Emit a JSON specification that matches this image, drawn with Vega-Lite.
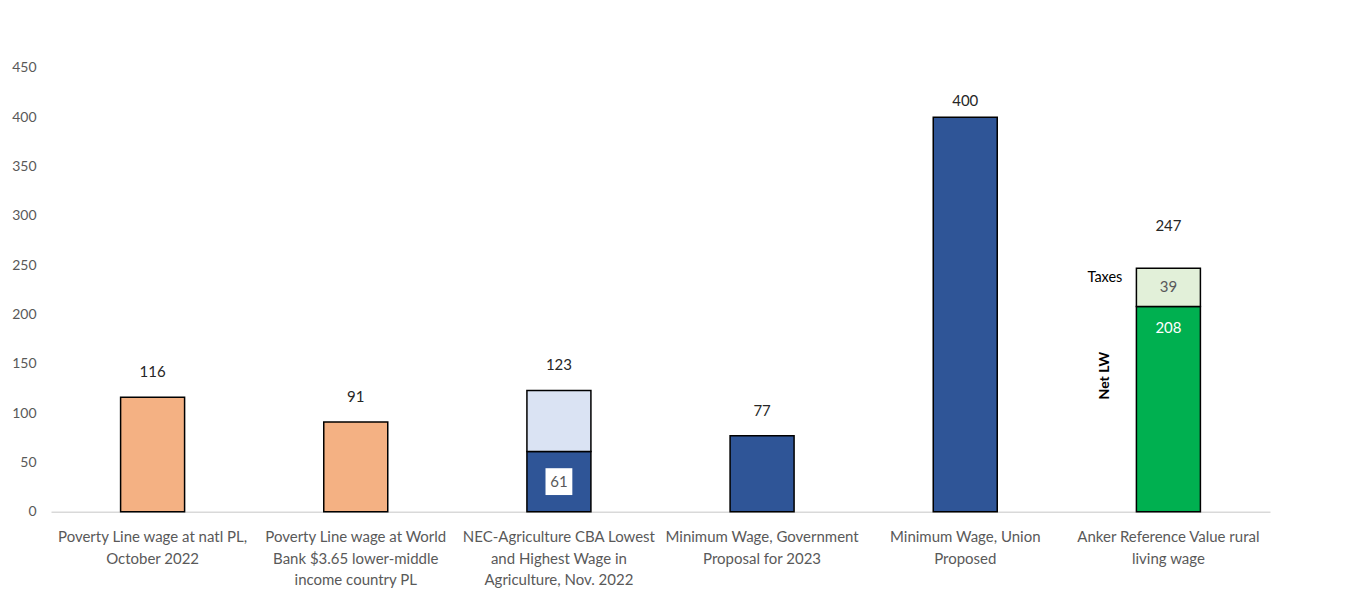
{
  "$schema": "https://vega.github.io/schema/vega-lite/v6.json",
  "width": 1219,
  "height": 443.7,
  "autosize": "none",
  "padding": {"left": 51, "top": 68, "right": 77, "bottom": 83},
  "background": "white",
  "config": {
    "view": {"stroke": null},
    "font": "Lato",
    "text": {"font": "Lato"}
  },
  "datasets": {
    "bars": [
      {"cat": "c1", "series": "pl", "ord": 1, "value": 116},
      {"cat": "c2", "series": "pl", "ord": 1, "value": 91},
      {"cat": "c3", "series": "low", "ord": 1, "value": 61},
      {"cat": "c3", "series": "high", "ord": 2, "value": 62},
      {"cat": "c4", "series": "min", "ord": 1, "value": 77},
      {"cat": "c5", "series": "min", "ord": 1, "value": 400},
      {"cat": "c6", "series": "net", "ord": 1, "value": 208},
      {"cat": "c6", "series": "tax", "ord": 2, "value": 39}
    ],
    "totals": [
      {"cat": "c1", "total": 116},
      {"cat": "c2", "total": 91},
      {"cat": "c3", "total": 123},
      {"cat": "c4", "total": 77},
      {"cat": "c5", "total": 400},
      {"cat": "c6", "total": 247}
    ],
    "inner": [
      {"cat": "c3", "label": "61", "mid": 30.5},
      {"cat": "c6", "label": "39", "mid": 227.5},
      {"cat": "c6", "label": "208", "mid": 208},
      {"cat": "c6", "label": "Taxes", "mid": 237},
      {"cat": "c6", "label": "Net LW", "mid": 138}
    ]
  },
  "encoding": {
    "x": {
      "field": "cat",
      "type": "nominal",
      "sort": null,
      "scale": {
        "domain": ["c1", "c2", "c3", "c4", "c5", "c6"],
        "paddingInner": 0.685,
        "paddingOuter": 0.3425
      },
      "axis": {
        "title": null,
        "ticks": false,
        "domainColor": "#D9D9D9",
        "domainWidth": 1.5,
        "labelAngle": 0,
        "labelPadding": 18,
        "labelLimit": 0,
        "labelFont": "Lato",
        "labelFontSize": 15,
        "labelColor": "#595959",
        "labelLineHeight": 21.5,
        "labelBaseline": "top",
        "labelExpr": "datum.value == 'c1' ? ['Poverty Line wage at natl PL,', 'October 2022'] : datum.value == 'c2' ? ['Poverty Line wage at World', 'Bank $3.65  lower-middle', 'income country PL'] : datum.value == 'c3' ? ['NEC-Agriculture CBA Lowest', 'and Highest Wage in', 'Agriculture, Nov. 2022'] : datum.value == 'c4' ? ['Minimum Wage, Government', 'Proposal for 2023'] : datum.value == 'c5' ? ['Minimum Wage, Union', 'Proposed'] : ['Anker Reference Value rural', 'living wage']"
      }
    }
  },
  "layer": [
    {
      "data": {"name": "bars"},
      "mark": {"type": "bar", "stroke": "black", "strokeWidth": 1.5},
      "encoding": {
        "y": {
          "field": "value",
          "type": "quantitative",
          "stack": "zero",
          "scale": {"domain": [0, 450], "nice": false},
          "axis": {
            "title": null,
            "values": [0, 50, 100, 150, 200, 250, 300, 350, 400, 450],
            "grid": false,
            "ticks": false,
            "domain": false,
            "labelPadding": 15,
            "labelFont": "Lato",
            "labelFontSize": 14,
            "labelColor": "#595959"
          }
        },
        "order": {"field": "ord", "type": "quantitative"},
        "fill": {
          "field": "series",
          "type": "nominal",
          "legend": null,
          "scale": {
            "domain": ["pl", "low", "high", "min", "net", "tax"],
            "range": ["#F4B183", "#2F5597", "#DAE3F3", "#2F5597", "#00B050", "#E2F0D9"]
          }
        }
      }
    },
    {
      "data": {"name": "totals"},
      "transform": [{"filter": "datum.total != 400 && datum.total != 247"}],
      "mark": {"type": "text", "dy": -25, "fontSize": 15, "color": "#262626", "baseline": "middle"},
      "encoding": {
        "y": {"field": "total", "type": "quantitative"},
        "text": {"field": "total", "type": "quantitative"}
      }
    },
    {
      "data": {"name": "totals"},
      "transform": [{"filter": "datum.total == 400"}],
      "mark": {"type": "text", "dy": -16, "fontSize": 15, "color": "#262626", "baseline": "middle"},
      "encoding": {
        "y": {"field": "total", "type": "quantitative"},
        "text": {"field": "total", "type": "quantitative"}
      }
    },
    {
      "data": {"name": "totals"},
      "transform": [{"filter": "datum.total == 247"}],
      "mark": {"type": "text", "dy": -42, "fontSize": 15, "color": "#262626", "baseline": "middle"},
      "encoding": {
        "y": {"field": "total", "type": "quantitative"},
        "text": {"field": "total", "type": "quantitative"}
      }
    },
    {
      "data": {"name": "inner"},
      "transform": [{"filter": "datum.label == '61'"}],
      "mark": {"type": "point", "shape": "square", "filled": true, "color": "white", "opacity": 1, "size": 720},
      "encoding": {
        "y": {"field": "mid", "type": "quantitative"}
      }
    },
    {
      "data": {"name": "inner"},
      "transform": [{"filter": "datum.label == '61' || datum.label == '39'"}],
      "mark": {"type": "text", "fontSize": 15, "color": "#595959", "baseline": "middle"},
      "encoding": {
        "y": {"field": "mid", "type": "quantitative"},
        "text": {"field": "label"}
      }
    },
    {
      "data": {"name": "inner"},
      "transform": [{"filter": "datum.label == '208'"}],
      "mark": {"type": "text", "fontSize": 15, "color": "white", "baseline": "middle", "dy": 21},
      "encoding": {
        "y": {"field": "mid", "type": "quantitative"},
        "text": {"field": "label"}
      }
    },
    {
      "data": {"name": "inner"},
      "transform": [{"filter": "datum.label == 'Taxes'"}],
      "mark": {"type": "text", "fontSize": 14.5, "color": "black", "baseline": "middle", "align": "right", "dx": -46},
      "encoding": {
        "y": {"field": "mid", "type": "quantitative"},
        "text": {"field": "label"}
      }
    },
    {
      "data": {"name": "inner"},
      "transform": [{"filter": "datum.label == 'Net LW'"}],
      "mark": {"type": "text", "fontSize": 14, "fontWeight": "bold", "color": "black", "baseline": "middle", "align": "center", "angle": 270, "dy": -63},
      "encoding": {
        "y": {"field": "mid", "type": "quantitative"},
        "text": {"field": "label"}
      }
    }
  ]
}
